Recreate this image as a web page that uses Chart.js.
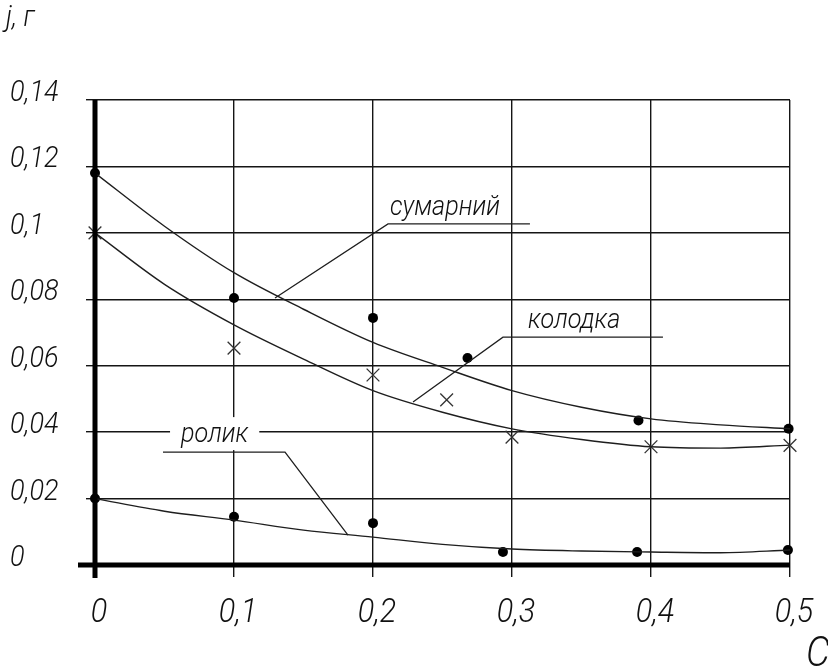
<!DOCTYPE html>
<html>
<head>
<meta charset="utf-8">
<script src="https://cdn.jsdelivr.net/npm/chart.js@4/dist/chart.umd.min.js"></script>
<style>
  html, body { margin: 0; padding: 0; background: #fff; }
  #wrap { width: 828px; height: 668px; }
</style>
</head>
<body>
<div id="wrap"><canvas id="chart" width="828" height="668"></canvas></div>
<script>
// Axis ticks and their labels
const xTicks = [0, 0.1, 0.2, 0.3, 0.4, 0.5];
const xTickLabels = ['0', '0,1', '0,2', '0,3', '0,4', '0,5'];
const yTicks = [0, 0.02, 0.04, 0.06, 0.08, 0.1, 0.12, 0.14];
const yTickLabels = ['0', '0,02', '0,04', '0,06', '0,08', '0,1', '0,12', '0,14'];
const xAxisTitle = 'C';
const yAxisTitle = 'j, г';

// Fitted curves
const curveX      = [0, 0.05, 0.1, 0.15, 0.2, 0.25, 0.3, 0.35, 0.4, 0.45, 0.5];
const totalCurve  = [0.118, 0.102, 0.088, 0.077, 0.067, 0.0595, 0.0525, 0.0475, 0.044, 0.0422, 0.041];
const shoeCurve   = [0.100, 0.0845, 0.0723, 0.062, 0.0525, 0.046, 0.041, 0.0378, 0.0356, 0.0352, 0.0361];
const rollerCurve = [0.020, 0.0162, 0.0135, 0.0105, 0.0084, 0.0062, 0.0048, 0.0042, 0.0039, 0.0037, 0.0045];

// Measured points
const totalX  = [0, 0.1, 0.2, 0.268, 0.391, 0.499];
const totalY  = [0.118, 0.0804, 0.0744, 0.0623, 0.0435, 0.041];
const shoeX   = [0, 0.1, 0.2, 0.253, 0.3, 0.4, 0.5];
const shoeY   = [0.100, 0.0653, 0.0572, 0.0497, 0.0385, 0.0356, 0.036];
const rollerX = [0, 0.1, 0.2, 0.2935, 0.39, 0.4985];
const rollerY = [0.020, 0.0145, 0.0126, 0.0039, 0.0039, 0.0045];

// Callout leader lines (data units)
const totalLeaderX  = [0.1295, 0.2108, 0.3129];
const totalLeaderY  = [0.0804, 0.1027, 0.1027];
const shoeLeaderX   = [0.2288, 0.2935, 0.4086];
const shoeLeaderY   = [0.0491, 0.0686, 0.0686];
const rollerLeaderX = [0.182, 0.1367, 0.0489];
const rollerLeaderY = [0.009, 0.0340, 0.0340];

// Callout captions and their anchors (data units)
const calloutText = ['сумарний', 'колодка', 'ролик'];
const calloutX    = [0.2122, 0.3115, 0.0619];
const calloutY    = [0.1054, 0.0714, 0.0370];

const FONT_FAMILY = 'Roboto, Lato, "DejaVu Sans", sans-serif';
const INK = '#111';
const SQUEEZE = 0.9;

const pts = (xs, ys) => xs.map((x, i) => ({ x, y: ys[i] }));

// narrow italic drafting-style text
function draftText(ctx, text, x, y, size, align) {
  ctx.save();
  ctx.font = 'italic 300 ' + size + 'px ' + FONT_FAMILY;
  ctx.fillStyle = INK;
  ctx.textBaseline = 'alphabetic';
  ctx.textAlign = 'left';
  const w = ctx.measureText(text).width * SQUEEZE;
  let left = x;
  if (align === 'center') left = x - w / 2;
  else if (align === 'right') left = x - w;
  ctx.translate(left, y);
  ctx.scale(SQUEEZE, 1);
  ctx.fillText(text, 0, 0);
  ctx.restore();
  return w;
}

const curveStyle = {
  showLine: true, pointRadius: 0, borderColor: '#1e1e1e', borderWidth: 1.4,
  cubicInterpolationMode: 'monotone', fill: false
};
const leaderStyle = {
  showLine: true, pointRadius: 0, borderColor: '#1e1e1e', borderWidth: 1.3,
  tension: 0, fill: false, clip: false
};
const dotStyle = {
  showLine: false, pointStyle: 'circle', pointRadius: 5,
  pointBackgroundColor: '#000', pointBorderColor: '#000', pointBorderWidth: 0, clip: false
};

const decorations = {
  id: 'decorations',
  afterDatasetsDraw(chart) {
    const { ctx, scales: { x, y } } = chart;
    calloutText.forEach((t, i) => {
      const px = x.getPixelForValue(calloutX[i]);
      const py = y.getPixelForValue(calloutY[i]);
      if (i === 2) {
        ctx.save();
        ctx.font = 'italic 300 28px ' + FONT_FAMILY;
        const w = ctx.measureText(t).width * SQUEEZE;
        ctx.fillStyle = '#fff';
        ctx.fillRect(px - 11, py - 25, w + 22, 33);
        ctx.restore();
      }
      draftText(ctx, t, px, py, 28, 'left');
    });
  },
  afterDraw(chart) {
    const { ctx, scales: { x, y } } = chart;
    const x0 = x.getPixelForValue(0), x1 = x.getPixelForValue(0.5);
    const y0 = y.getPixelForValue(0), y1 = y.getPixelForValue(0.14);
    ctx.save();
    ctx.strokeStyle = '#000';
    ctx.lineWidth = 5;
    ctx.lineCap = 'butt';
    ctx.beginPath();
    ctx.moveTo(x0, y1);
    ctx.lineTo(x0, y0 + 13);
    ctx.moveTo(x0 - 17, y0);
    ctx.lineTo(x1, y0);
    ctx.stroke();
    ctx.restore();

    // tick labels
    yTicks.forEach((v, i) => draftText(ctx, yTickLabels[i], 10, y.getPixelForValue(v) + 1, 30, 'left'));
    xTicks.forEach((v, i) => draftText(ctx, xTickLabels[i], x.getPixelForValue(v) + 4, 622, 34, 'center'));

    // axis titles
    draftText(ctx, yAxisTitle, 6, 26, 30, 'left');
    draftText(ctx, xAxisTitle, 806, 666, 42, 'left');
  }
};

new Chart(document.getElementById('chart'), {
  type: 'scatter',
  data: {
    datasets: [
      { ...curveStyle, data: pts(curveX, totalCurve) },
      { ...curveStyle, data: pts(curveX, shoeCurve) },
      { ...curveStyle, data: pts(curveX, rollerCurve) },
      { ...leaderStyle, data: pts(totalLeaderX, totalLeaderY) },
      { ...leaderStyle, data: pts(shoeLeaderX, shoeLeaderY) },
      { ...leaderStyle, data: pts(rollerLeaderX, rollerLeaderY) },
      { ...dotStyle, data: pts(totalX, totalY) },
      { ...dotStyle, data: pts(rollerX, rollerY) },
      {
        showLine: false, pointStyle: 'crossRot', pointRadius: 9,
        pointBorderColor: '#333', pointBorderWidth: 1.3, clip: false,
        data: pts(shoeX, shoeY)
      }
    ]
  },
  options: {
    responsive: false,
    animation: false,
    devicePixelRatio: 1,
    layout: { padding: { left: 10, right: 38, top: 100, bottom: 0 } },
    plugins: { legend: { display: false }, tooltip: { enabled: false } },
    scales: {
      x: {
        type: 'linear', min: 0, max: 0.5,
        afterBuildTicks: s => { s.ticks = xTicks.map(v => ({ value: v })); },
        afterFit: s => { s.height = 103; },
        grid: { color: '#151515', lineWidth: 1.4, tickLength: 12, tickColor: '#151515' },
        border: { display: false },
        ticks: { display: false }
      },
      y: {
        type: 'linear', min: 0, max: 0.14,
        afterBuildTicks: s => { s.ticks = yTicks.map(v => ({ value: v })); },
        afterFit: s => { s.width = 85; },
        grid: { color: '#151515', lineWidth: 1.4, tickLength: 9, tickColor: '#151515' },
        border: { display: false },
        ticks: { display: false }
      }
    }
  },
  plugins: [decorations]
});
</script>
</body>
</html>
